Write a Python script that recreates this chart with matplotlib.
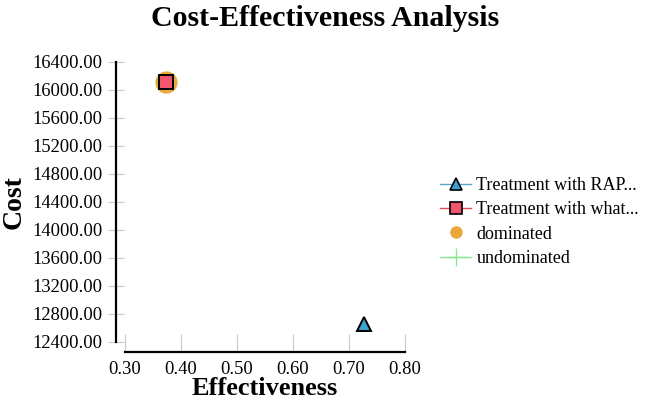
import matplotlib
matplotlib.use('Agg')
import matplotlib.pyplot as plt
from matplotlib.lines import Line2D

# 数据
strategies = ['Treatment with RAP...', 'Treatment with what...']
effectiveness = [0.727, 0.374]
cost = [12650, 16115]
dominated_idx = [1]
x_ticks = [0.30, 0.40, 0.50, 0.60, 0.70, 0.80]
y_ticks = [12400, 12800, 13200, 13600, 14000, 14400, 14800, 15200, 15600, 16000, 16400]

plt.rcParams['font.family'] = ['Liberation Serif', 'DejaVu Serif']

W, H = 653, 404
fig = plt.figure(figsize=(W / 100, H / 100), dpi=100)
ax = fig.add_axes([125 / W, 1 - 342 / H, 280 / W, 280 / H])
ax.set_xlim(0.30, 0.80)
ax.set_ylim(12400, 16400)

# dominated 点
for i in dominated_idx:
    ax.plot(effectiveness[i], cost[i], 'o', color='#e8a93a', markersize=15, zorder=2)

# 策略点
ax.plot(effectiveness[0], cost[0], '^', markersize=10, markerfacecolor='#3fa0d2',
        markeredgecolor='black', markeredgewidth=1.4, zorder=3)
ax.plot(effectiveness[1], cost[1], 's', markersize=10, markerfacecolor='#f0566e',
        markeredgecolor='black', markeredgewidth=1.4, zorder=3)

ax.set_xticks(x_ticks)
ax.set_xticklabels(['%.2f' % v for v in x_ticks])
ax.set_yticks(y_ticks)
ax.set_yticklabels(['%.2f' % v for v in y_ticks])

for s in ['top', 'right']:
    ax.spines[s].set_visible(False)
ax.spines['left'].set_position(('outward', 6.5))
ax.spines['bottom'].set_position(('outward', 7))
ax.spines['left'].set_linewidth(1.6)
ax.spines['bottom'].set_linewidth(1.6)
ax.tick_params(axis='y', direction='inout', length=11, width=0.8, color='#c8c8c8',
               labelsize=13.3, pad=4)
ax.tick_params(axis='x', direction='in', length=13, width=0.8, color='#c8c8c8',
               labelsize=13.3, pad=7)

ax.set_xlabel('Effectiveness', fontsize=19, fontweight='bold', labelpad=-1)
ax.set_ylabel('Cost', fontsize=20, fontweight='bold', labelpad=4)
fig.text(325 / W, 1 - 18 / H, 'Cost-Effectiveness Analysis',
         fontsize=21.5, fontweight='bold', ha='center', va='center')

# 图例
handles = [
    Line2D([], [], color='#5aa6d8', marker='^', markersize=9, markerfacecolor='#3fa0d2',
           markeredgecolor='black', markeredgewidth=1.2, linewidth=1),
    Line2D([], [], color='#e8485e', marker='s', markersize=9, markerfacecolor='#f0566e',
           markeredgecolor='black', markeredgewidth=1.2, linewidth=1),
    Line2D([], [], color='#e8a93a', marker='o', markersize=8, linestyle='none'),
    Line2D([], [], color='#8ce88c', marker='+', markersize=13, linewidth=1),
]
labels = strategies + ['dominated', 'undominated']
fig.legend(handles, labels, loc='center left', bbox_to_anchor=(433 / W, 1 - 222 / H),
           frameon=False, fontsize=13, handlelength=1.7, handletextpad=0.3,
           labelspacing=0.4, borderaxespad=0)

plt.savefig('out.png', dpi=100)
